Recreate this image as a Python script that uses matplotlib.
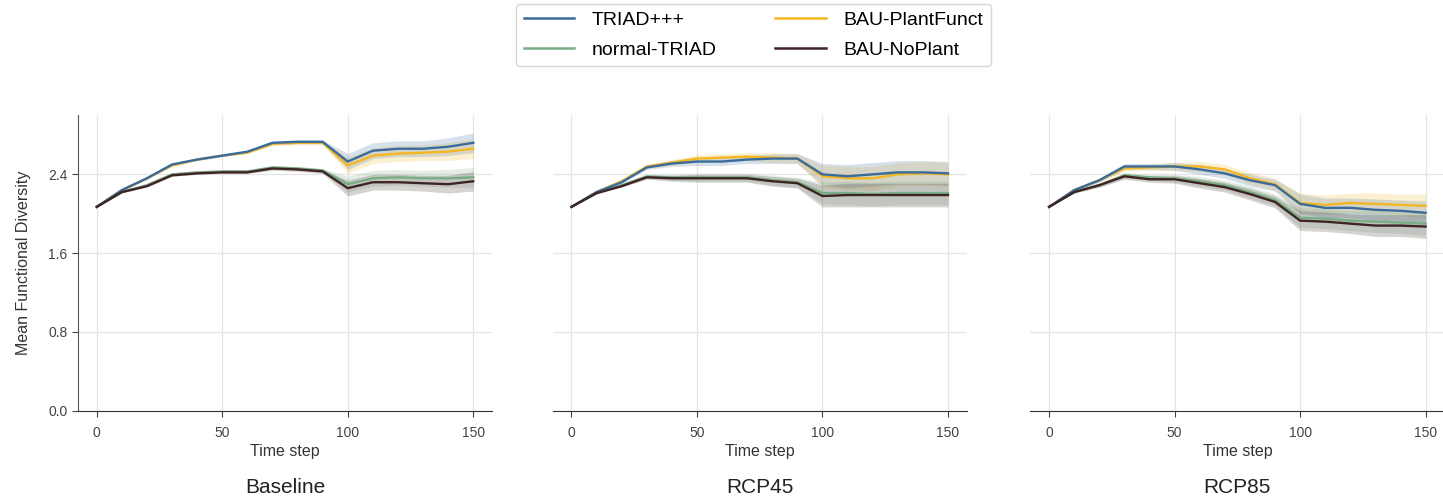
import numpy as np
import matplotlib.pyplot as plt
from matplotlib.lines import Line2D

plt.rcParams['font.family'] = ['Liberation Sans', 'DejaVu Sans']

# time steps
steps = [0, 10, 20, 30, 40, 50, 60, 70, 80, 90, 100, 110, 120, 130, 140, 150]

scenarios = ['Baseline', 'RCP45', 'RCP85']
series = ['TRIAD+++', 'normal-TRIAD', 'BAU-PlantFunct', 'BAU-NoPlant']
colors = {'TRIAD+++': '#3a6b9c', 'normal-TRIAD': '#79ad84',
          'BAU-PlantFunct': '#f2b722', 'BAU-NoPlant': '#3e2424'}

# mean functional diversity
base_triad = [2.07, 2.24, 2.36, 2.50, 2.55, 2.59, 2.63, 2.72, 2.73, 2.73, 2.53, 2.64, 2.66, 2.66, 2.68, 2.72]
base_normal = [2.07, 2.22, 2.29, 2.40, 2.42, 2.43, 2.43, 2.47, 2.46, 2.44, 2.30, 2.36, 2.37, 2.36, 2.36, 2.37]
base_plant = [2.07, 2.24, 2.36, 2.49, 2.55, 2.59, 2.62, 2.71, 2.72, 2.72, 2.49, 2.59, 2.61, 2.62, 2.63, 2.66]
base_noplant = [2.07, 2.22, 2.28, 2.39, 2.41, 2.42, 2.42, 2.46, 2.45, 2.43, 2.26, 2.32, 2.32, 2.31, 2.30, 2.33]

r45_triad = [2.07, 2.22, 2.32, 2.47, 2.51, 2.53, 2.53, 2.55, 2.56, 2.56, 2.40, 2.38, 2.40, 2.42, 2.42, 2.41]
r45_normal = [2.07, 2.21, 2.29, 2.38, 2.37, 2.37, 2.37, 2.37, 2.34, 2.32, 2.21, 2.21, 2.20, 2.21, 2.21, 2.21]
r45_plant = [2.07, 2.22, 2.33, 2.48, 2.52, 2.56, 2.57, 2.58, 2.57, 2.56, 2.38, 2.36, 2.36, 2.40, 2.41, 2.40]
r45_noplant = [2.07, 2.21, 2.28, 2.37, 2.36, 2.36, 2.36, 2.36, 2.33, 2.31, 2.18, 2.19, 2.19, 2.19, 2.19, 2.19]

r85_triad = [2.07, 2.24, 2.34, 2.48, 2.48, 2.48, 2.45, 2.41, 2.34, 2.29, 2.10, 2.06, 2.06, 2.04, 2.03, 2.01]
r85_normal = [2.07, 2.22, 2.29, 2.39, 2.37, 2.36, 2.33, 2.29, 2.22, 2.14, 1.96, 1.95, 1.93, 1.92, 1.91, 1.90]
r85_plant = [2.07, 2.24, 2.34, 2.46, 2.47, 2.48, 2.48, 2.45, 2.36, 2.30, 2.11, 2.09, 2.11, 2.10, 2.09, 2.08]
r85_noplant = [2.07, 2.22, 2.29, 2.38, 2.35, 2.35, 2.31, 2.27, 2.20, 2.12, 1.93, 1.92, 1.90, 1.88, 1.88, 1.87]

# half-width of the confidence bands
base_ci = [0.0, 0.01, 0.01, 0.01, 0.01, 0.01, 0.01, 0.02, 0.02, 0.02, 0.08, 0.08, 0.08, 0.08, 0.09, 0.10]
r45_ci = [0.0, 0.01, 0.01, 0.02, 0.03, 0.04, 0.04, 0.04, 0.05, 0.05, 0.11, 0.12, 0.12, 0.12, 0.12, 0.12]
r85_ci = [0.0, 0.01, 0.02, 0.03, 0.03, 0.04, 0.05, 0.05, 0.06, 0.06, 0.10, 0.10, 0.10, 0.11, 0.11, 0.12]

data = {
    'Baseline': {'TRIAD+++': base_triad, 'normal-TRIAD': base_normal,
                 'BAU-PlantFunct': base_plant, 'BAU-NoPlant': base_noplant},
    'RCP45': {'TRIAD+++': r45_triad, 'normal-TRIAD': r45_normal,
              'BAU-PlantFunct': r45_plant, 'BAU-NoPlant': r45_noplant},
    'RCP85': {'TRIAD+++': r85_triad, 'normal-TRIAD': r85_normal,
              'BAU-PlantFunct': r85_plant, 'BAU-NoPlant': r85_noplant},
}
bands = {'Baseline': base_ci, 'RCP45': r45_ci, 'RCP85': r85_ci}

fig = plt.figure(figsize=(14.43, 5.01), dpi=100)
lefts = [0.054, 0.383, 0.714]
axes = []
for i, left in enumerate(lefts):
    ax = fig.add_axes([left, 0.18, 0.287, 0.59], sharey=axes[0] if axes else None)
    axes.append(ax)

draw_order = ['BAU-PlantFunct', 'normal-TRIAD', 'TRIAD+++', 'BAU-NoPlant']
x = np.array(steps)
for ax, sc in zip(axes, scenarios):
    ci = np.array(bands[sc])
    for name in draw_order:
        y = np.array(data[sc][name])
        ax.fill_between(x, y - ci, y + ci, color=colors[name], alpha=0.2, lw=0)
        ax.plot(x, y, color=colors[name], lw=1.7)
    ax.set_xlim(-7.5, 157.5)
    ax.set_ylim(0, 3.0)
    ax.set_xticks([0, 50, 100, 150])
    ax.set_yticks([0.0, 0.8, 1.6, 2.4])
    ax.grid(True, color='#e4e4e4', lw=0.9)
    ax.set_axisbelow(True)
    for s in ['top', 'right']:
        ax.spines[s].set_visible(False)
    ax.spines['bottom'].set_color('#333333')
    ax.spines['left'].set_color('#555555')
    ax.tick_params(labelsize=10, colors='#444444', length=4)
    ax.tick_params(axis='x', pad=7)
    ax.set_xlabel('Time step', fontsize=11.5, color='#333333', labelpad=3)
    ax.text(0.5, -0.26, sc, transform=ax.transAxes, ha='center', va='center',
            fontsize=15, color='#222222')

axes[0].set_ylabel('Mean Functional Diversity', fontsize=11.5, color='#333333',
                   labelpad=12)
for ax in axes[1:]:
    ax.spines['left'].set_visible(False)
    ax.tick_params(axis='y', left=False, labelleft=False)

handles = [Line2D([], [], color=colors[n], lw=1.8) for n in series]
fig.legend(handles, series, loc='upper center', bbox_to_anchor=(0.522, 1.0),
           ncol=2, fontsize=14, frameon=True, edgecolor='#cccccc',
           columnspacing=3.0, handlelength=2.6, handletextpad=0.9,
           borderaxespad=0.2, labelspacing=0.6)

fig.savefig('out.png', dpi=100)
